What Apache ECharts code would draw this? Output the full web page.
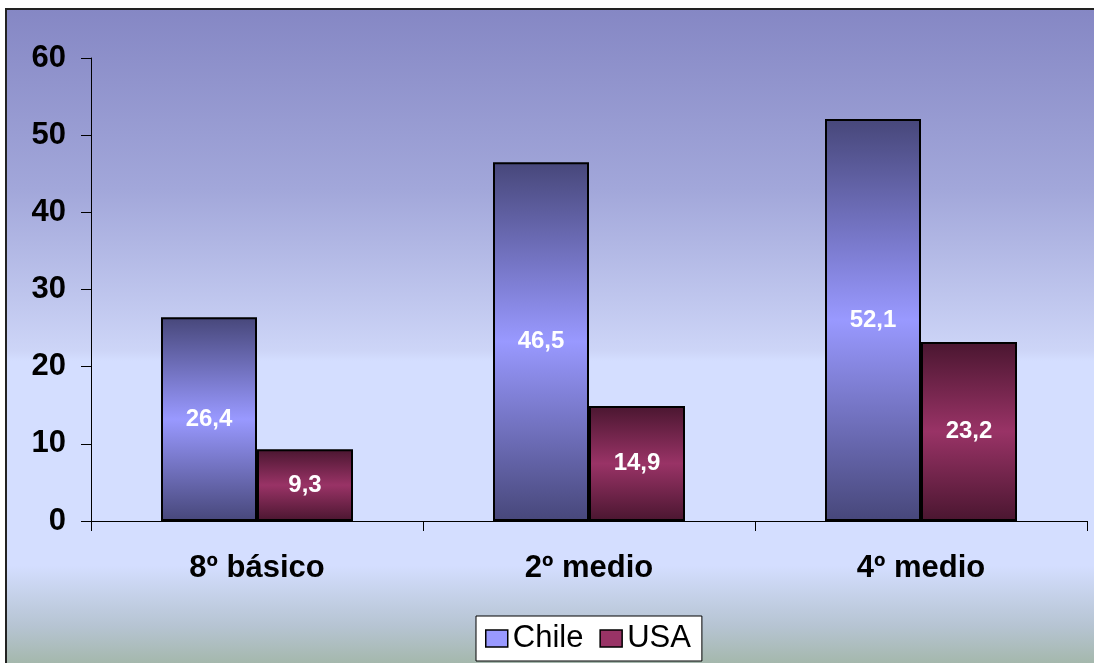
<!DOCTYPE html>
<html>
<head>
<meta charset="utf-8">
<script src="https://cdn.jsdelivr.net/npm/echarts@6/dist/echarts.min.js"></script>
<style>
html,body{margin:0;padding:0;background:#fff;}
#c{width:1094px;height:663px;}
</style>
</head>
<body>
<div id="c"></div>
<script>
const categories = ['8º básico', '2º medio', '4º medio'];
const chileValues = [26.4, 46.5, 52.1];
const usaValues = [9.3, 14.9, 23.2];
const seriesNames = ['Chile', 'USA'];
const yTicks = [0, 10, 20, 30, 40, 50, 60];

const FONT = '"Liberation Sans", Arial, sans-serif';
const chart = echarts.init(document.getElementById('c'), null, {renderer: 'canvas'});

function barGrad(edge, mid) {
  return new echarts.graphic.LinearGradient(0, 0, 0, 1, [
    {offset: 0, color: edge},
    {offset: 0.5, color: mid},
    {offset: 1, color: edge}
  ]);
}

const labelCfg = {
  show: true,
  position: 'inside',
  color: '#ffffff',
  fontFamily: FONT,
  fontWeight: 'bold',
  fontSize: 24,
  formatter: p => String(p.value).replace('.', ',')
};

chart.setOption({
  backgroundColor: '#ffffff',
  animation: false,
  graphic: {
    elements: [{
      type: 'rect',
      z: -100,
      silent: true,
      shape: {x: 6, y: 9, width: 1100, height: 670},
      style: {
        fill: new echarts.graphic.LinearGradient(0, 0, 0, 1, [
          {offset: 0, color: '#8587c4'},
          {offset: 0.27, color: '#a2a7da'},
          {offset: 0.51, color: '#cdd5f7'},
          {offset: 0.525, color: '#d4deff'},
          {offset: 0.83, color: '#d4deff'},
          {offset: 0.92, color: '#b6c4d2'},
          {offset: 1, color: '#9cb29b'}
        ]),
        stroke: '#222222',
        lineWidth: 2
      }
    }]
  },
  grid: {left: 91, right: 7, top: 58, bottom: 142, containLabel: false},
  legend: {
    left: 476,
    top: 616,
    backgroundColor: '#ffffff',
    borderColor: '#000000',
    borderWidth: 1,
    borderRadius: 0,
    padding: [6, 11, 6, 9],
    itemGap: 16,
    itemWidth: 22,
    itemHeight: 17,
    textStyle: {fontFamily: FONT, fontSize: 31, color: '#000', padding: [0, 0, 0, 0], lineHeight: 33},
    data: [
      {name: seriesNames[0], icon: 'rect', itemStyle: {color: '#9999ff', borderColor: '#000', borderWidth: 1.5}},
      {name: seriesNames[1], icon: 'rect', itemStyle: {color: '#993366', borderColor: '#000', borderWidth: 1.5}}
    ]
  },
  xAxis: {
    type: 'category',
    data: categories,
    axisLine: {show: true, lineStyle: {color: '#000', width: 1}},
    axisTick: {show: true, length: 10, alignWithLabel: false, lineStyle: {color: '#000'}},
    axisLabel: {fontFamily: FONT, fontWeight: 'bold', fontSize: 31, color: '#000', margin: 32}
  },
  yAxis: {
    type: 'value',
    min: 0,
    max: 60,
    interval: 10,
    axisLine: {show: true, lineStyle: {color: '#000', width: 1}},
    axisTick: {show: true, length: 10, lineStyle: {color: '#000'}},
    splitLine: {show: false},
    axisLabel: {
      fontFamily: FONT, fontWeight: 'bold', fontSize: 31, color: '#000', margin: 25,
      formatter: v => yTicks.includes(v) ? String(v) : ''
    }
  },
  series: [
    {
      name: seriesNames[0],
      type: 'bar',
      data: chileValues,
      barWidth: 96,
      barGap: '0%',
      itemStyle: {color: barGrad('#47477a', '#9999ff'), borderColor: '#000', borderWidth: 2},
      label: labelCfg
    },
    {
      name: seriesNames[1],
      type: 'bar',
      data: usaValues,
      barWidth: 96,
      barGap: '0%',
      itemStyle: {color: barGrad('#4a1630', '#993366'), borderColor: '#000', borderWidth: 2},
      label: labelCfg
    }
  ]
});
</script>
</body>
</html>
